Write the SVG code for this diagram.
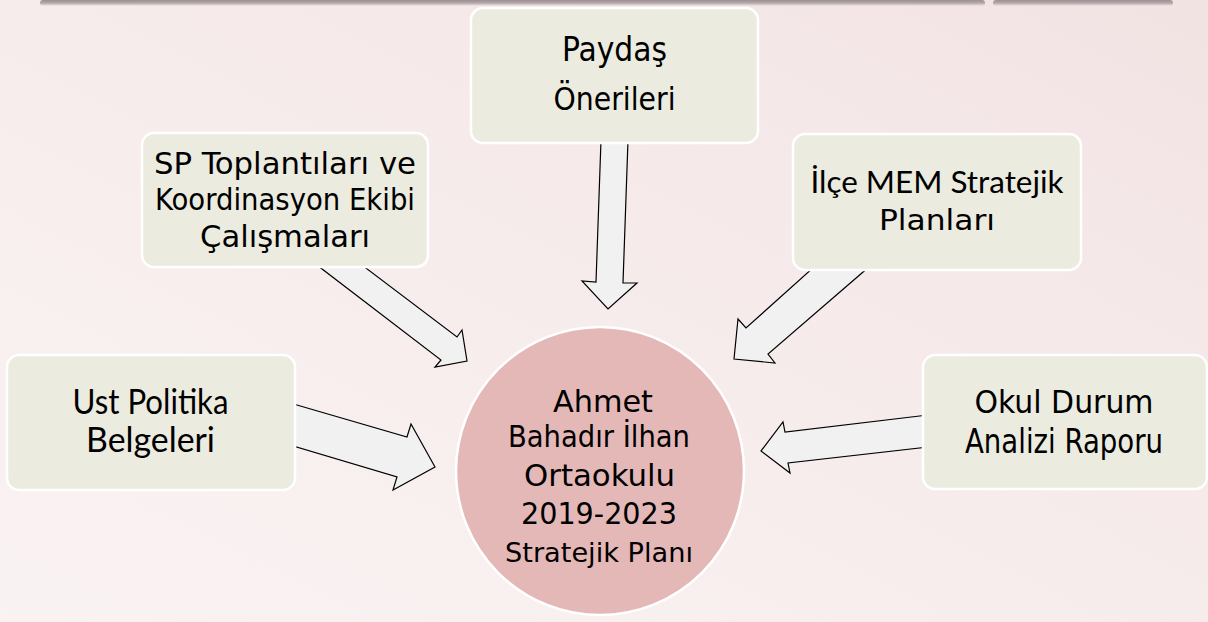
<svg xmlns="http://www.w3.org/2000/svg" width="1208" height="622" viewBox="0 0 1208 622">
  <defs>
    <linearGradient id="bg" x1="0" y1="1" x2="1" y2="0">
      <stop offset="0" stop-color="#faf3f3"/>
      <stop offset="0.5" stop-color="#f7ecec"/>
      <stop offset="1" stop-color="#f2e3e3"/>
    </linearGradient>
    <linearGradient id="bar" x1="0" y1="0" x2="0" y2="1">
      <stop offset="0" stop-color="#9b8f91"/>
      <stop offset="0.5" stop-color="#b3a8aa"/>
      <stop offset="1" stop-color="#b3a8aa" stop-opacity="0"/>
    </linearGradient>
    <style>
      .box { fill: #ecebe0; stroke: #ffffff; stroke-width: 2.5; }
      .arrow { fill: #f1f1f1; stroke: #000000; stroke-width: 1.2; stroke-linejoin: miter; }
      .t { font-family: "DejaVu Sans Condensed", "DejaVu Sans", sans-serif; fill: #000000; text-anchor: middle; }
      .c { font-family: Lato, "Open Sans", sans-serif; fill: #000000; text-anchor: middle; }
    </style>
  </defs>
  <rect width="1208" height="622" fill="url(#bg)"/>
  <rect x="40" y="0" width="945" height="6" rx="3" fill="url(#bar)"/>
  <rect x="993" y="0" width="180" height="6" rx="3" fill="url(#bar)"/>

  <g id="connectors">
    <polygon class="arrow" points="601,140 628,140 623,283 637,283 608,309 582,281 596,282"/>
    <polygon class="arrow" points="313,262 358,262 457,337 462,330 467,361 435,367 441,360"/>
    <polygon class="arrow" points="815,266 870,266 768,354 775,363 734,359 738,319 746,328"/>
    <polygon class="arrow" points="290,403 407,437 411,424 435,467 393,490 397,477 290,445"/>
    <polygon class="arrow" points="928,415 785,432 783,422 761,451 790,473 788,463 928,447"/>
  </g>

  <g id="node-paydas">
    <rect class="box" x="471" y="8" width="287" height="135" rx="12"/>
    <text class="t" x="614.5" y="61" font-size="34" textLength="105" lengthAdjust="spacingAndGlyphs">Paydaş</text>
    <text class="t" x="614.5" y="110" font-size="32" textLength="122" lengthAdjust="spacingAndGlyphs">Önerileri</text>
  </g>

  <g id="node-sp">
    <rect class="box" x="142" y="133" width="286" height="134" rx="12"/>
    <text class="t" x="285" y="174" font-size="31" textLength="262" lengthAdjust="spacingAndGlyphs">SP Toplantıları ve</text>
    <text class="t" x="285" y="210" font-size="31" textLength="260" lengthAdjust="spacingAndGlyphs">Koordinasyon Ekibi</text>
    <text class="t" x="285" y="247" font-size="31" textLength="170" lengthAdjust="spacingAndGlyphs">Çalışmaları</text>
  </g>

  <g id="node-ilce">
    <rect class="box" x="793" y="134" width="288" height="136" rx="12"/>
    <text class="c" x="937" y="193" font-size="30" textLength="253" lengthAdjust="spacingAndGlyphs">İlçe MEM Stratejik</text>
    <text class="t" x="937" y="230" font-size="29" textLength="116" lengthAdjust="spacingAndGlyphs">Planları</text>
  </g>

  <g id="node-ust">
    <rect class="box" x="7" y="355" width="288" height="135" rx="12"/>
    <text class="c" x="150.5" y="414" font-size="34" textLength="156" lengthAdjust="spacingAndGlyphs">Ust Politika</text>
    <text class="c" x="150.5" y="452" font-size="34" textLength="129" lengthAdjust="spacingAndGlyphs">Belgeleri</text>
  </g>

  <g id="node-okul">
    <rect class="box" x="923" y="355" width="284" height="134" rx="12"/>
    <text class="t" x="1064" y="413" font-size="32" textLength="179" lengthAdjust="spacingAndGlyphs">Okul Durum</text>
    <text class="t" x="1064" y="453" font-size="34" textLength="198" lengthAdjust="spacingAndGlyphs">Analizi Raporu</text>
  </g>

  <g id="node-center">
    <circle cx="600" cy="471" r="144" fill="#e5b8b8" stroke="#ffffff" stroke-width="2.5"/>
    <text class="t" x="603" y="412" font-size="31" textLength="100" lengthAdjust="spacingAndGlyphs">Ahmet</text>
    <text class="t" x="599" y="447" font-size="31" textLength="182" lengthAdjust="spacingAndGlyphs">Bahadır İlhan</text>
    <text class="t" x="599.5" y="486" font-size="31" textLength="151" lengthAdjust="spacingAndGlyphs">Ortaokulu</text>
    <text class="t" x="599" y="524" font-size="31" textLength="156" lengthAdjust="spacingAndGlyphs">2019-2023</text>
    <text class="t" x="599" y="562" font-size="27" textLength="188" lengthAdjust="spacingAndGlyphs">Stratejik Planı</text>
  </g>
</svg>
